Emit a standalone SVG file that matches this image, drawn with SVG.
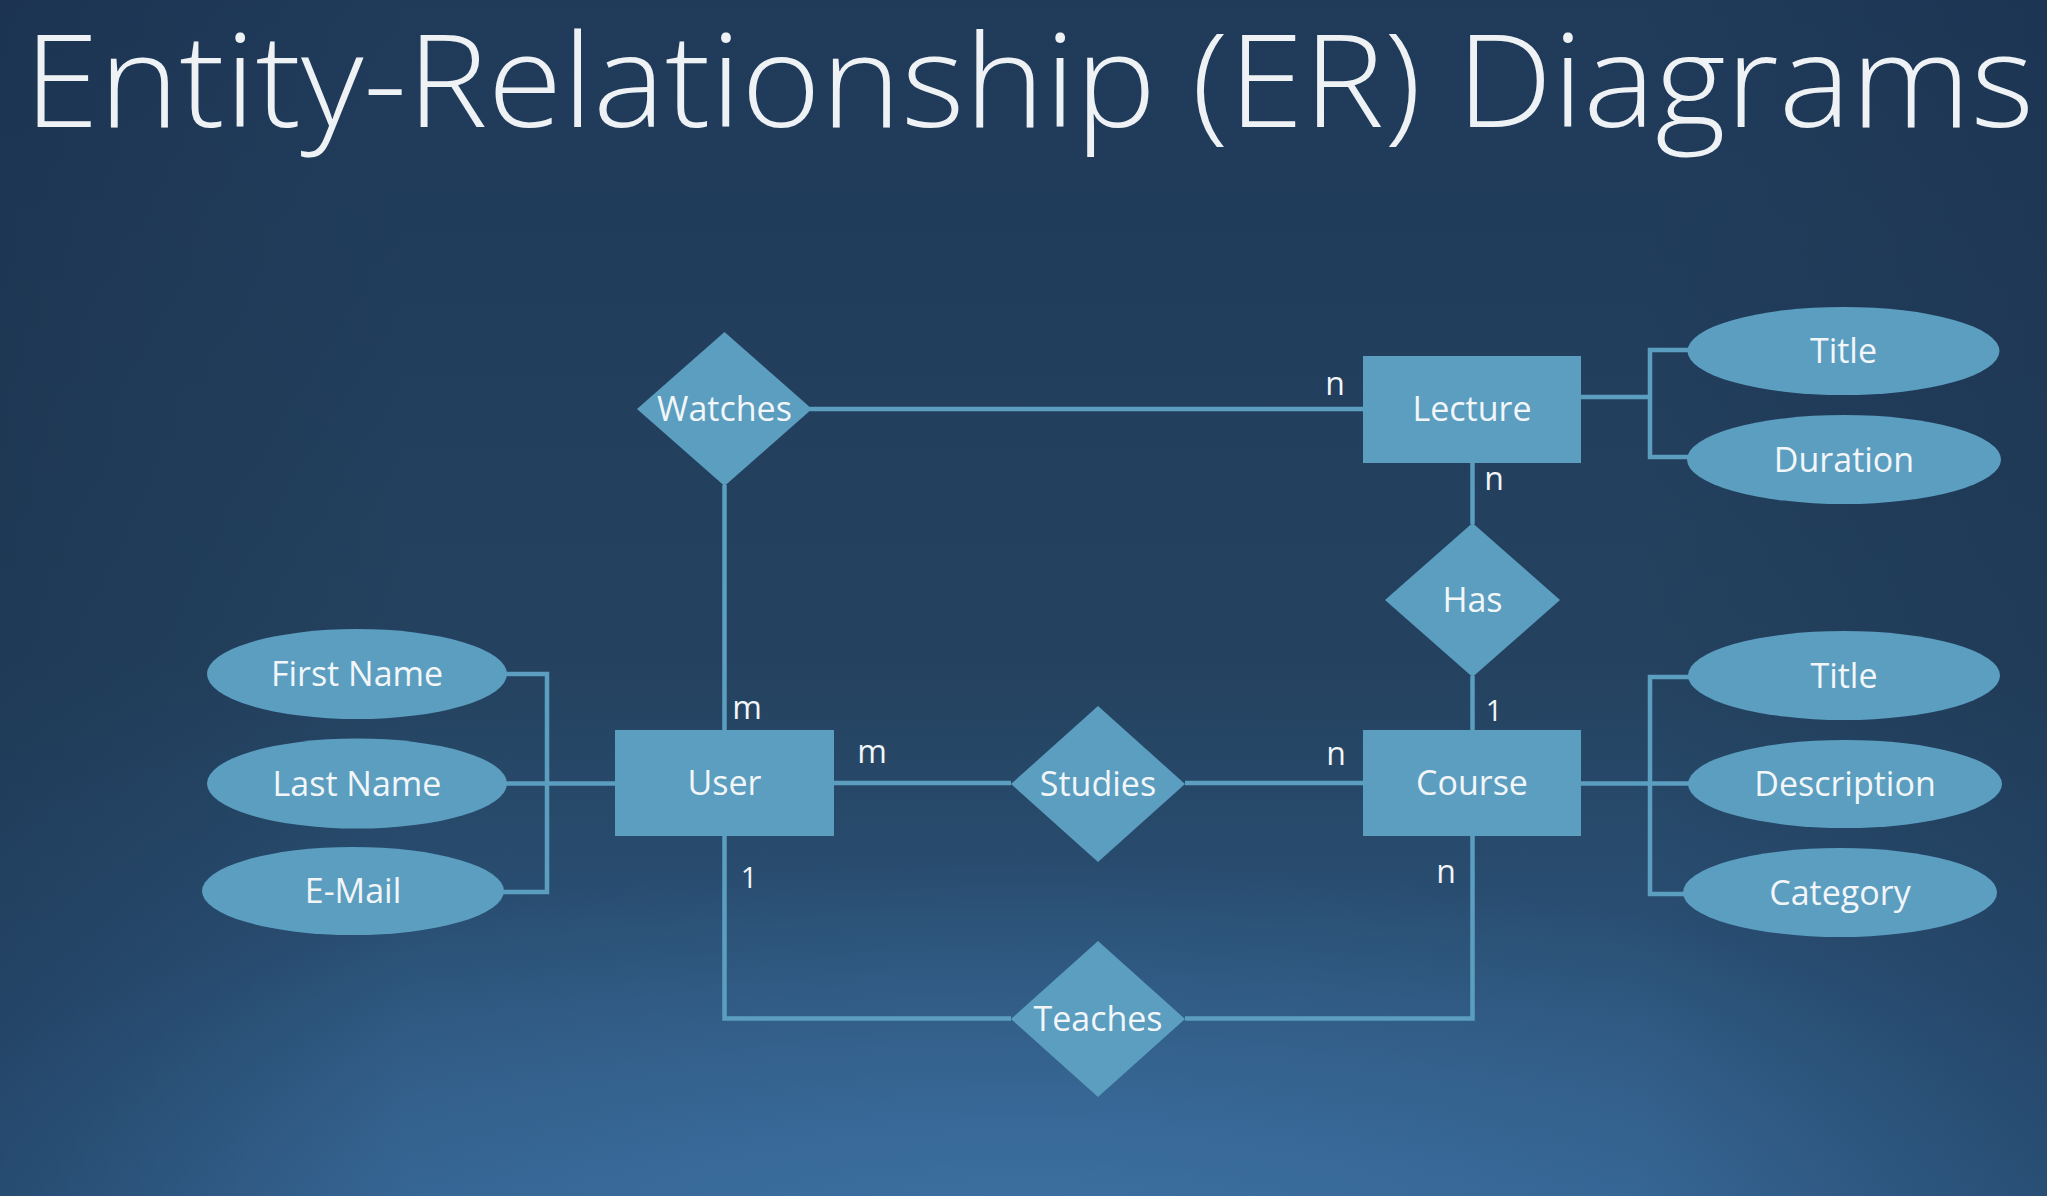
<svg xmlns="http://www.w3.org/2000/svg" width="2047" height="1196" viewBox="0 0 2047 1196">
<defs>
<linearGradient id="bg" x1="0" y1="0" x2="0" y2="1">
<stop offset="0" stop-color="#203a5a"/>
<stop offset="0.55" stop-color="#24425f"/>
<stop offset="1" stop-color="#2f5b86"/>
</linearGradient>
<radialGradient id="glow" cx="0.5" cy="1.05" r="0.6" gradientTransform="translate(0.5 1.05) scale(1 0.55) translate(-0.5 -1.05)">
<stop offset="0" stop-color="#3f74a6" stop-opacity="0.9"/>
<stop offset="1" stop-color="#3f74a6" stop-opacity="0"/>
</radialGradient>
<linearGradient id="side" x1="0" y1="0" x2="1" y2="0">
<stop offset="0" stop-color="#152a44" stop-opacity="0.35"/>
<stop offset="0.2" stop-color="#152a44" stop-opacity="0"/>
<stop offset="0.8" stop-color="#152a44" stop-opacity="0"/>
<stop offset="1" stop-color="#152a44" stop-opacity="0.3"/>
</linearGradient>
</defs>
<style>
.shape{fill:#5b9ec0}
.lbl{font-family:"Open Sans","Noto Sans",sans-serif;font-size:34px;fill:#f2f6f9;text-anchor:middle}
.card{font-family:"Open Sans","Noto Sans",sans-serif;font-size:32px;fill:#f2f6f9;text-anchor:middle}
.one{font-size:29px}
.conn{fill:none;stroke:#5b9ec0;stroke-width:4.5}
.title{font-family:"Open Sans","Noto Sans",sans-serif;font-size:130px;font-weight:300;fill:#eef2f5}
</style>
<rect width="2047" height="1196" fill="url(#bg)"/>
<rect width="2047" height="1196" fill="url(#glow)"/>
<rect width="2047" height="1196" fill="url(#side)"/>
<text class="title" x="24" y="127" textLength="2010" lengthAdjust="spacingAndGlyphs">Entity-Relationship (ER) Diagrams</text>

<g id="connectors">
<path class="conn" d="M810 409H1363"/>
<path class="conn" d="M724.5 485V730"/>
<path class="conn" d="M834 783H1011"/>
<path class="conn" d="M1185 783H1363"/>
<path class="conn" d="M1472.5 462V524"/>
<path class="conn" d="M1472.5 676V730"/>
<path class="conn" d="M724.5 836V1018.5H1011"/>
<path class="conn" d="M1185 1018.5H1472.5V836"/>
<path class="conn" d="M506 674H547V892H503"/>
<path class="conn" d="M506 783.5H615"/>
<path class="conn" d="M1581 397H1650"/>
<path class="conn" d="M1688 350H1650V457H1688"/>
<path class="conn" d="M1581 783.5H1690"/>
<path class="conn" d="M1690 677H1650V894H1686"/>
</g>

<g id="labels">
<text class="card" x="1335" y="395">n</text>
<text class="card" x="1494" y="490">n</text>
<text class="card one" x="1494" y="721">1</text>
<text class="card" x="1336" y="765">n</text>
<text class="card" x="1446" y="883">n</text>
<text class="card" x="747" y="719">m</text>
<text class="card" x="872" y="763">m</text>
<text class="card one" x="749" y="888">1</text>
</g>

<g id="lecture"><rect class="shape" x="1363" y="356" width="218" height="107"/><text class="lbl" x="1472" y="421">Lecture</text></g>
<g id="course"><rect class="shape" x="1363" y="730" width="218" height="106"/><text class="lbl" x="1472" y="795">Course</text></g>
<g id="user"><rect class="shape" x="615" y="730" width="219" height="106"/><text class="lbl" x="724.5" y="795">User</text></g>

<g id="watches"><polygon class="shape" points="724.5,332 812,409 724.5,486 637,409"/><text class="lbl" x="724.5" y="421">Watches</text></g>
<g id="has"><polygon class="shape" points="1472.5,523 1560,600 1472.5,677 1385,600"/><text class="lbl" x="1472.5" y="612">Has</text></g>
<g id="studies"><polygon class="shape" points="1098,706 1185,784 1098,862 1011,784"/><text class="lbl" x="1098" y="796">Studies</text></g>
<g id="teaches"><polygon class="shape" points="1098,941 1185,1019 1098,1097 1011,1019"/><text class="lbl" x="1098" y="1031">Teaches</text></g>

<g id="first-name"><ellipse class="shape" cx="357" cy="674" rx="150" ry="45"/><text class="lbl" x="357" y="686">First Name</text></g>
<g id="last-name"><ellipse class="shape" cx="357" cy="783.5" rx="150" ry="45"/><text class="lbl" x="357" y="795.5">Last Name</text></g>
<g id="e-mail"><ellipse class="shape" cx="353" cy="891" rx="151" ry="44"/><text class="lbl" x="353" y="903">E-Mail</text></g>

<g id="lecture-title"><ellipse class="shape" cx="1843.5" cy="351" rx="156" ry="44"/><text class="lbl" x="1843.5" y="363">Title</text></g>
<g id="duration"><ellipse class="shape" cx="1844" cy="459.5" rx="157" ry="44.5"/><text class="lbl" x="1844" y="471.5">Duration</text></g>

<g id="course-title"><ellipse class="shape" cx="1844" cy="675.5" rx="156" ry="44.5"/><text class="lbl" x="1844" y="687.5">Title</text></g>
<g id="description"><ellipse class="shape" cx="1845" cy="784" rx="157" ry="44"/><text class="lbl" x="1845" y="796">Description</text></g>
<g id="category"><ellipse class="shape" cx="1840" cy="892.5" rx="157" ry="44.5"/><text class="lbl" x="1840" y="904.5">Category</text></g>
</svg>
